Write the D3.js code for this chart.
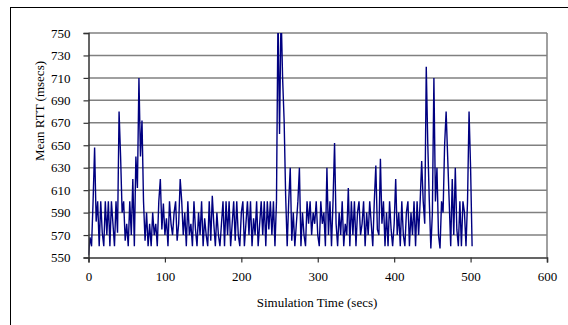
<!DOCTYPE html>
<html>
<head>
<meta charset="utf-8">
<script src="https://cdn.jsdelivr.net/npm/d3@7"></script>
<style>
  body { margin: 0; background: #fff; }
  svg { display: block; }
  text { font-family: "Liberation Serif", "Times New Roman", serif; fill: #000; }
</style>
</head>
<body>
<svg id="chart" width="568" height="325"></svg>
<script>
// mean RTT sampled every 2 secs, t = 0 .. 502
const rttValues = [
  552, 568, 560, 600, 648, 582, 600, 560, 600, 572,
  560, 600, 570, 600, 560, 600, 580, 560, 600, 572,
  680, 640, 590, 600, 565, 580, 560, 600, 570, 620,
  560, 640, 612, 710, 640, 672, 600, 565, 590, 560,
  580, 560, 590, 570, 580, 560, 600, 620, 575, 598,
  570, 585, 560, 600, 580, 570, 590, 600, 565, 580,
  620, 600, 570, 590, 560, 600, 570, 580, 560, 600,
  575, 560, 590, 570, 600, 560, 585, 570, 560, 600,
  565, 605, 580, 560, 590, 570, 560, 580, 600, 560,
  600, 570, 600, 560, 580, 600, 565, 600, 570, 560,
  590, 600, 560, 580, 600, 570, 600, 560, 585, 570,
  600, 560, 580, 600, 570, 600, 560, 600, 575, 600,
  570, 600, 560, 600, 770, 660, 770, 710, 672, 605,
  560, 600, 630, 565, 590, 560, 580, 600, 630, 560,
  590, 570, 560, 600, 580, 600, 570, 590, 580, 600,
  570, 560, 600, 580, 590, 560, 630, 570, 600, 560,
  600, 652, 580, 560, 590, 570, 600, 560, 580, 570,
  612, 560, 600, 570, 600, 560, 590, 600, 570, 580,
  600, 560, 590, 570, 600, 580, 560, 600, 632, 575,
  570, 638, 580, 600, 560, 590, 560, 600, 575, 560,
  580, 620, 570, 590, 560, 600, 570, 560, 590, 600,
  560, 590, 570, 600, 560, 600, 570, 600, 636, 600,
  580, 720, 651, 600, 558, 590, 710, 600, 630, 570,
  558, 600, 590, 650, 680, 640, 600, 560, 620, 570,
  630, 575, 560, 600, 560, 600, 590, 560, 600, 680,
  630, 560
];
const sampleStep = 2;
const xTicks = [0, 100, 200, 300, 400, 500, 600];
const yTicks = [550, 570, 590, 610, 630, 650, 670, 690, 710, 730, 750];

const points = rttValues.map((v, i) => ({ t: i * sampleStep, v }));

const svg = d3.select('#chart');
const plot = { left: 88.5, right: 547, top: 33, bottom: 257.5 };

const x = d3.scaleLinear().domain([0, 600]).range([plot.left, plot.right]);
const y = d3.scaleLinear().domain([550, 750]).range([plot.bottom, plot.top]);

// outer frame
svg.append('rect')
  .attr('x', 10.5).attr('y', 7.5)
  .attr('width', 580).attr('height', 340)
  .attr('fill', 'none').attr('stroke', '#000').attr('stroke-width', 1);

// horizontal gridlines
svg.append('g')
  .selectAll('line')
  .data(yTicks.slice(1))
  .join('line')
  .attr('x1', plot.left).attr('x2', plot.right)
  .attr('y1', d => y(d)).attr('y2', d => y(d))
  .attr('stroke', '#808080').attr('stroke-width', 1.5);

// right edge of plot area
svg.append('line')
  .attr('x1', plot.right).attr('x2', plot.right)
  .attr('y1', plot.top).attr('y2', plot.bottom)
  .attr('stroke', '#808080').attr('stroke-width', 1.5);

svg.append('clipPath').attr('id', 'plot-clip')
  .append('rect')
  .attr('x', plot.left).attr('y', plot.top)
  .attr('width', plot.right - plot.left).attr('height', plot.bottom - plot.top);

const line = d3.line().x(d => x(d.t)).y(d => y(d.v));

svg.append('path')
  .datum(points)
  .attr('clip-path', 'url(#plot-clip)')
  .attr('d', line)
  .attr('fill', 'none')
  .attr('stroke', '#000080')
  .attr('stroke-width', 1.4)
  .attr('stroke-linejoin', 'miter');

// axes
const yAxis = d3.axisLeft(y).tickValues(yTicks).tickSize(5).tickPadding(13);
const xAxis = d3.axisBottom(x).tickValues(xTicks).tickSize(5).tickPadding(9);

const gy = svg.append('g').attr('transform', `translate(${plot.left},0)`).call(yAxis);
const gx = svg.append('g').attr('transform', `translate(0,${plot.bottom})`).call(xAxis);

[gx, gy].forEach(g => {
  g.select('.domain').attr('stroke', '#333').attr('stroke-width', 1.5);
  g.selectAll('.tick line').attr('stroke', '#333').attr('stroke-width', 1.2);
  g.selectAll('.tick text')
    .style('font-family', '"Liberation Serif", "Times New Roman", serif')
    .style('font-size', '13px')
    .attr('fill', '#000');
});

svg.append('text')
  .attr('x', 317).attr('y', 307)
  .attr('text-anchor', 'middle')
  .style('font-size', '13px')
  .text('Simulation Time (secs)');

svg.append('text')
  .attr('transform', 'translate(44,111) rotate(-90)')
  .attr('text-anchor', 'middle')
  .style('font-size', '13px')
  .text('Mean RTT (msecs)');
</script>
</body>
</html>
